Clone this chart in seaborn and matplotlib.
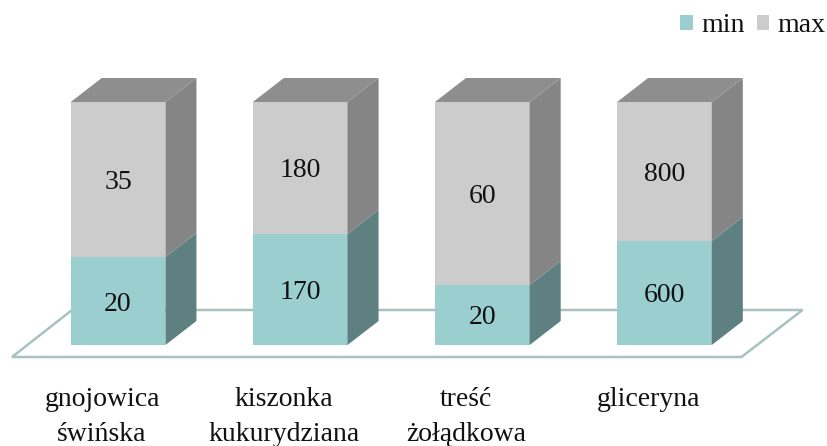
import matplotlib
matplotlib.use("Agg")
import matplotlib.pyplot as plt
import matplotlib.transforms as mtrans
from matplotlib.patches import Patch, Polygon
import seaborn as sns

categories = ["gnojowica\nświńska", "kiszonka\nkukurydziana", "treść\nżołądkowa", "gliceryna"]
min_labels = [20, 170, 20, 600]
max_labels = [35, 180, 60, 800]
# share of the column taken by min, as drawn in the picture
min_share = [0.362, 0.457, 0.247, 0.428]
max_share = [0.638, 0.543, 0.753, 0.572]

TEAL, TEAL_SIDE = "#9bcfcf", "#5f8081"
GREY, GREY_SIDE, GREY_TOP = "#cccccc", "#858585", "#8e8e8e"
FLOOR = "#a9c2c1"
INK = "#111111"

sns.set_theme(style="white")
plt.rcParams["font.family"] = ["Liberation Serif", "DejaVu Serif"]

W, H = 828, 446
fig = plt.figure(figsize=(W / 100, H / 100), dpi=100)
ax = fig.add_axes([27 / W, (H - 345) / H, 728.5 / W, 243 / H])

totals = [a + b for a, b in zip(min_share, max_share)]
sns.barplot(x=categories, y=totals, color=GREY, saturation=1, width=0.52, linewidth=0, ax=ax, zorder=3)
sns.barplot(x=categories, y=min_share, color=TEAL, saturation=1, width=0.52, linewidth=0, ax=ax, zorder=3)
ax.set_xlim(-0.5, 3.5)
ax.set_ylim(0, 1)

# depth of the fake 3D boxes, in data units
dx = 31 / 182
dy = 24 / 243
label_drop = 3 / 243

n = len(categories)
for i in range(n):
    back = ax.patches[i]
    front = ax.patches[n + i]
    l, r = back.get_x(), back.get_x() + back.get_width()
    top = back.get_height()
    mid = front.get_height()
    ax.add_patch(Polygon([(r, 0), (r + dx, dy), (r + dx, mid + dy), (r, mid)], fc=TEAL_SIDE, ec="none", zorder=3, clip_on=False))
    ax.add_patch(Polygon([(r, mid), (r + dx, mid + dy), (r + dx, top + dy), (r, top)], fc=GREY_SIDE, ec="none", zorder=3, clip_on=False))
    ax.add_patch(Polygon([(l, top), (l + dx, top + dy), (r + dx, top + dy), (r, top)], fc=GREY_TOP, ec="none", zorder=3, clip_on=False))
    ax.text(l + (r - l) / 2, mid / 2 - label_drop, str(min_labels[i]), ha="center", va="center", fontsize=20, color=INK, zorder=4)
    ax.text(l + (r - l) / 2, mid + (top - mid) / 2 - label_drop, str(max_labels[i]), ha="center", va="center", fontsize=20, color=INK, zorder=4)

# floor under the columns
fl, fr = (12 - 27) / 182 - 0.5, (741 - 27) / 182 - 0.5
bl, br = (72 - 27) / 182 - 0.5, (802 - 27) / 182 - 0.5
fy, by = -12 / 243, 35 / 243
ax.add_patch(Polygon([(fl, fy), (fr, fy), (br, by), (bl, by)], closed=True, fc="white", ec=FLOOR, lw=1.8, zorder=1, clip_on=False))

ax.tick_params(axis="x", length=0, pad=30, labelsize=20, colors=INK)
ax.tick_params(axis="y", left=False, labelleft=False)
ax.set_xlabel("")
ax.set_ylabel("")
sns.despine(ax=ax, left=True, bottom=True)

shift = mtrans.ScaledTranslation(-16 / 100, 0, fig.dpi_scale_trans)
for lab in ax.get_xticklabels():
    lab.set_transform(lab.get_transform() + shift)
    lab.set_linespacing(1.55)
    lab.set_va("top")

handles = [Patch(fc=TEAL, ec="none", label="min"), Patch(fc=GREY, ec="none", label="max")]
fig.legend(handles=handles, ncols=2, frameon=False, fontsize=20, labelcolor=INK,
           handlelength=0.45, handleheight=0.45, handletextpad=0.3, columnspacing=0.45,
           loc="upper right", bbox_to_anchor=(1.004, 0.983), borderaxespad=0, borderpad=0.2)

fig.savefig("out.png", dpi=100)
